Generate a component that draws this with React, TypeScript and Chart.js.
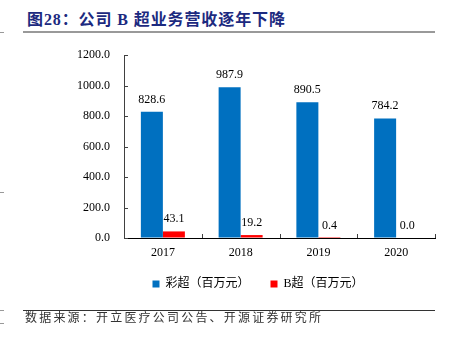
import React, { useEffect, useRef } from "react";
import { Chart, registerables } from "chart.js";

Chart.register(...registerables);

const categories = ["2017", "2018", "2019", "2020"];
const colorUltrasound = [828.6, 987.9, 890.5, 784.2];
const bUltrasound = [43.1, 19.2, 0.4, 0.0];
const seriesNames = ["彩超（百万元）", "B超（百万元）"];
const yMin = 0;
const yMax = 1200;
const yStep = 200;

const titleText = "图28：公司 B 超业务营收逐年下降";
const sourceText = "数据来源：开立医疗公司公告、开源证券研究所";

const FONT = "'Liberation Serif', 'Noto Sans CJK SC', serif";

const valueLabels = {
  id: "valueLabels",
  afterDatasetsDraw(chart: any) {
    const ctx = chart.ctx;
    ctx.save();
    ctx.font = `12px ${FONT}`;
    ctx.fillStyle = "#000";
    ctx.textAlign = "center";
    ctx.textBaseline = "alphabetic";
    chart.data.datasets.forEach((ds: any, i: number) => {
      const meta = chart.getDatasetMeta(i);
      meta.data.forEach((bar: any, j: number) => {
        ctx.fillText(Number(ds.data[j]).toFixed(1), bar.x, bar.y - 9);
      });
    });
    ctx.restore();
  },
};

const innerTicks = {
  id: "innerTicks",
  afterDraw(chart: any) {
    const ctx = chart.ctx;
    const { left, bottom } = chart.chartArea;
    const ys = chart.scales.y;
    const xs = chart.scales.x;
    ctx.save();
    ctx.lineWidth = 1;
    ctx.strokeStyle = "#404040";
    ys.ticks.forEach((t: any) => {
      const y = Math.round(ys.getPixelForValue(t.value)) + 0.5;
      ctx.beginPath();
      ctx.moveTo(left, y);
      ctx.lineTo(left + 4, y);
      ctx.stroke();
    });
    for (let i = 1; i <= categories.length; i++) {
      const x = Math.round(xs.getPixelForValue(i - 0.5)) + 0.5;
      ctx.beginPath();
      ctx.moveTo(x, bottom);
      ctx.lineTo(x, bottom - 4);
      ctx.stroke();
    }
    ctx.restore();
  },
};

export default function App() {
  const canvasRef = useRef<HTMLCanvasElement | null>(null);

  useEffect(() => {
    if (!canvasRef.current) return;
    Chart.defaults.font.family = FONT;
    Chart.defaults.color = "#000";
    const chart = new Chart(canvasRef.current, {
      type: "bar",
      data: {
        labels: categories,
        datasets: [
          {
            label: seriesNames[0],
            data: colorUltrasound,
            backgroundColor: "#0070C0",
            borderWidth: 0,
            categoryPercentage: 0.566,
            barPercentage: 1,
          },
          {
            label: seriesNames[1],
            data: bUltrasound,
            backgroundColor: "#FF0000",
            borderWidth: 0,
            categoryPercentage: 0.566,
            barPercentage: 1,
          },
        ],
      },
      options: {
        responsive: false,
        animation: false,
        layout: { padding: { left: 74, right: 8, top: 55, bottom: 38 } },
        plugins: {
          legend: {
            position: "bottom",
            labels: {
              boxWidth: 7,
              boxHeight: 7,
              padding: 21,
              color: "#000",
              font: { size: 12, family: FONT },
            },
          },
          tooltip: { enabled: false },
          title: { display: false },
        },
        scales: {
          x: {
            grid: { drawOnChartArea: false, drawTicks: false },
            border: { display: true, color: "#000", width: 1 },
            ticks: { padding: 8, color: "#000", font: { size: 12, family: FONT } },
            afterFit: (s: any) => {
              s.height = 19;
            },
          },
          y: {
            min: yMin,
            max: yMax,
            grid: { drawOnChartArea: false, drawTicks: false },
            border: { display: true, color: "#404040", width: 1 },
            ticks: {
              stepSize: yStep,
              padding: 14,
              color: "#000",
              font: { size: 12, family: FONT },
              callback: (v: any) => Number(v).toFixed(1),
            },
            afterFit: (s: any) => {
              s.width = 50;
            },
          },
          y2: {
            position: "right",
            min: yMin,
            max: yMax,
            grid: { display: false, drawTicks: false },
            border: { display: false },
            ticks: { display: false },
            afterFit: (s: any) => {
              s.width = 7;
            },
          },
        },
      },
      plugins: [valueLabels, innerTicks],
    });
    return () => chart.destroy();
  }, []);

  const edgeMarks = [32, 192, 310, 323];

  return (
    <div
      style={{
        position: "absolute",
        left: 0,
        top: 0,
        width: 450,
        height: 338,
        background: "#fff",
        overflow: "hidden",
      }}
    >
      <div
        style={{
          position: "absolute",
          left: 27,
          top: 12,
          fontFamily: FONT,
          fontWeight: "bold",
          fontSize: 16,
          lineHeight: "16px",
          color: "#1C2A80",
          whiteSpace: "nowrap",
          letterSpacing: "0.9px",
        }}
      >
        {titleText}
      </div>
      <div
        style={{
          position: "absolute",
          left: 23,
          top: 31,
          width: 412,
          height: 2,
          background: "#999",
        }}
      />
      <canvas
        ref={canvasRef}
        width={450}
        height={338}
        style={{ position: "absolute", left: 0, top: 0, width: 450, height: 338 }}
      />
      <div
        style={{
          position: "absolute",
          left: 23,
          top: 310,
          width: 412,
          height: 1,
          background: "#333",
        }}
      />
      <div
        style={{
          position: "absolute",
          left: 25,
          top: 311,
          fontFamily: "'Noto Sans CJK SC', sans-serif",
          fontWeight: 400,
          fontSize: 12,
          lineHeight: "12px",
          letterSpacing: "2.2px",
          color: "#333",
          whiteSpace: "nowrap",
        }}
      >
        {sourceText}
      </div>
      {edgeMarks.map((y) => (
        <div
          key={y}
          style={{
            position: "absolute",
            left: 0,
            top: y,
            width: 4,
            height: 1,
            background: "#999",
          }}
        />
      ))}
    </div>
  );
}
